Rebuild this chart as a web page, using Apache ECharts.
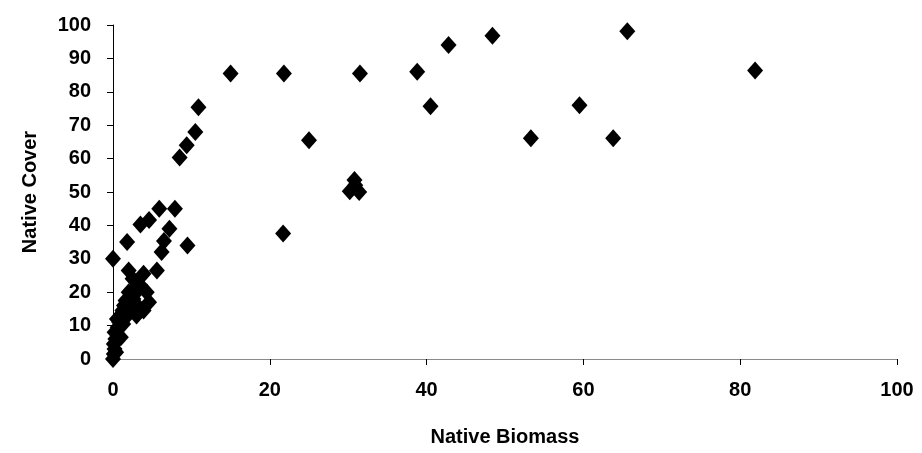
<!DOCTYPE html>
<html lang="en">
<head>
  <meta charset="UTF-8" />
  <title>Native Cover vs Native Biomass</title>
  <script src="https://cdn.jsdelivr.net/npm/echarts@6/dist/echarts.min.js"></script>
  <style>
    html, body { margin: 0; padding: 0; background: #fff; }
    #chart { width: 922px; height: 453px; }
  </style>
</head>
<body>
  <div id="chart"></div>
  <script>
    // native biomass (x) and native cover (y)
    const biomass = [
      0, 0.1, 0.2, 0.1, 0.3, 1.0, 0.2, 0.6, 1.3, 0.5, 1.0, 2.0, 3.0, 3.9, 2.5,
      1.4, 3.1, 4.6, 1.6, 2.2, 2.0, 4.3, 3.0, 3.1, 2.5, 3.9, 2.0, 5.6, 0, 1.8,
      6.2, 6.5, 9.5, 7.2, 3.5, 4.6, 5.9, 7.9, 8.5, 9.4, 10.5, 10.9, 15.0,
      21.8, 31.5, 38.8, 42.8, 48.4, 65.6, 81.9, 40.5, 59.5, 25.0, 53.3, 63.8,
      30.2, 31.4, 30.9, 30.8, 21.7,
      0.8, 1.5, 2.6, 3.5, 1.2, 2.8, 0.4
    ];
    const cover = [
      0, 1.5, 3, 4.5, 6, 6.5, 8, 9.5, 10.5, 12, 13, 13.5, 13, 14.5, 15,
      16, 16, 17, 17.5, 18.5, 20, 20, 21.5, 23, 24, 25.5, 26.5, 26.5, 30, 35,
      32, 35.3, 34, 39, 40.3, 41.6, 45, 45, 60.3, 64, 68, 75.4, 85.5,
      85.5, 85.5, 86, 94, 96.8, 98.1, 86.4, 75.7, 76, 65.5, 66.1, 66.1,
      50.2, 50.0, 52, 53.6, 37.6,
      11, 12.5, 18, 22, 14.5, 19.5, 2
    ];
    const xTicks = [0, 20, 40, 60, 80, 100];
    const yTicks = [0, 10, 20, 30, 40, 50, 60, 70, 80, 90, 100];

    const font = "Arial, 'Liberation Sans', sans-serif";
    const points = biomass.map((b, i) => [b, cover[i]]);

    const chart = echarts.init(document.getElementById('chart'));
    chart.setOption({
      animation: false,
      grid: { left: 113, right: 25, top: 25, bottom: 94 },
      xAxis: {
        type: 'value',
        min: xTicks[0],
        max: xTicks[xTicks.length - 1],
        interval: xTicks[1] - xTicks[0],
        name: 'Native Biomass',
        nameLocation: 'middle',
        nameGap: 68,
        nameTextStyle: { fontFamily: font, fontWeight: 'bold', fontSize: 20, color: '#000' },
        axisLine: { show: true, lineStyle: { color: '#8a8a8a', width: 1 } },
        axisTick: { show: true, inside: false, length: 6, lineStyle: { color: '#000' } },
        axisLabel: { fontFamily: font, fontWeight: 'bold', fontSize: 20, color: '#000', margin: 21 },
        splitLine: { show: false }
      },
      yAxis: {
        type: 'value',
        min: yTicks[0],
        max: yTicks[yTicks.length - 1],
        interval: yTicks[1] - yTicks[0],
        name: 'Native Cover',
        nameLocation: 'middle',
        nameGap: 73,
        nameTextStyle: { fontFamily: font, fontWeight: 'bold', fontSize: 20, color: '#000' },
        axisLine: { show: true, lineStyle: { color: '#000', width: 1 } },
        axisTick: { show: true, inside: false, length: 6, lineStyle: { color: '#000' } },
        axisLabel: { fontFamily: font, fontWeight: 'bold', fontSize: 20, color: '#000', margin: 22 },
        splitLine: { show: false }
      },
      series: [{
        type: 'scatter',
        data: points,
        symbol: 'diamond',
        symbolSize: [16, 18],
        itemStyle: { color: '#000', opacity: 1 },
        clip: false
      }]
    });
  </script>
</body>
</html>
